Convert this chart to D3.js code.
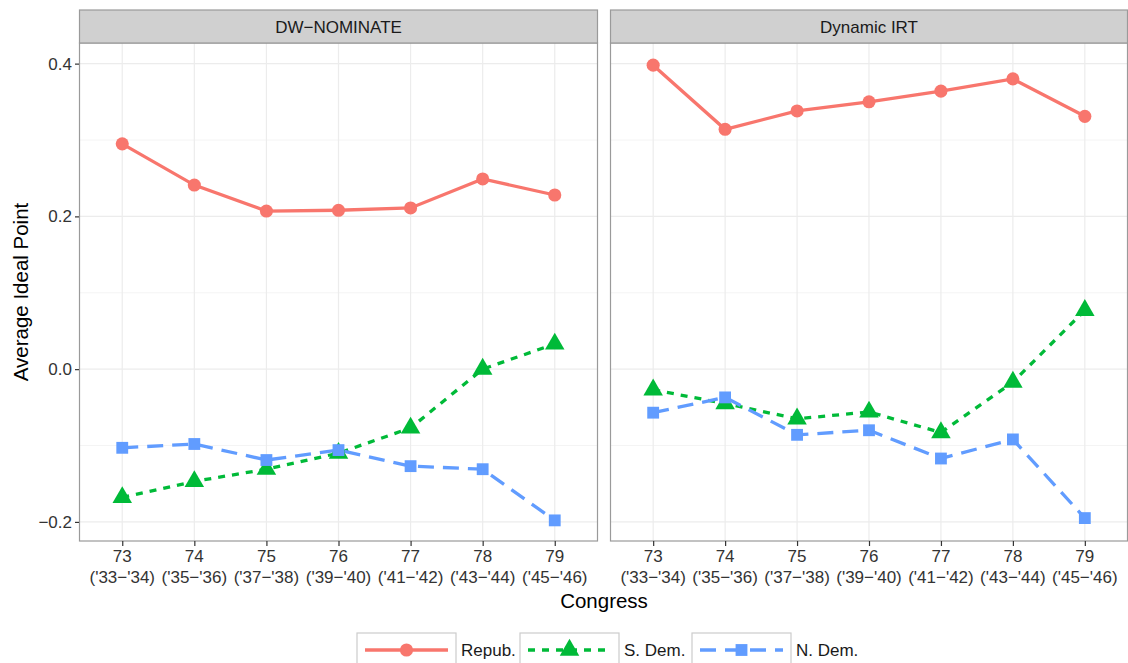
<!DOCTYPE html>
<html>
<head>
<meta charset="utf-8">
<script src="https://cdn.jsdelivr.net/npm/d3@7"></script>
<style>
  html, body { margin: 0; padding: 0; background: #fff; }
  svg { display: block; font-family: "Liberation Sans", Arial, sans-serif; }
</style>
</head>
<body>
<svg id="chart" width="1128" height="663"></svg>
<script>
// Congress numbers and their year spans
const congresses = ["73", "74", "75", "76", "77", "78", "79"];
const yearLabels = ["('33\u2212'34)", "('35\u2212'36)", "('37\u2212'38)", "('39\u2212'40)",
  "('41\u2212'42)", "('43\u2212'44)", "('45\u2212'46)"];

const panelNames = ["DW\u2212NOMINATE", "Dynamic IRT"];
const seriesNames = ["Repub.", "S. Dem.", "N. Dem."];

// DW-NOMINATE averages
const dwRepub = [0.295, 0.241, 0.207, 0.208, 0.211, 0.249, 0.228];
const dwSDem = [-0.168, -0.147, -0.131, -0.110, -0.077, 0.000, 0.033];
const dwNDem = [-0.103, -0.098, -0.119, -0.106, -0.127, -0.131, -0.198];

// Dynamic IRT averages
const irtRepub = [0.398, 0.314, 0.338, 0.350, 0.364, 0.380, 0.331];
const irtSDem = [-0.027, -0.045, -0.065, -0.056, -0.083, -0.017, 0.077];
const irtNDem = [-0.057, -0.037, -0.086, -0.080, -0.117, -0.092, -0.195];

const yTicks = [-0.2, 0.0, 0.2, 0.4];
const yMinor = [-0.1, 0.1, 0.3];

const panelValues = [
  [dwRepub, dwSDem, dwNDem],
  [irtRepub, irtSDem, irtNDem],
];

const CONFIG = {
  panelTop: 43,
  panelBottom: 541,
  stripTop: 10,
  panels: [[79, 598], [610, 1128]],
  colors: ["#F8766D", "#00BA38", "#619CFF"],
  dashes: [null, "7,7", "16,9"],
  symbols: [d3.symbolCircle, d3.symbolTriangle, d3.symbolSquare],
  symbolSizes: [135, 165, 140],
  lineWidth: 3.3,
  border: "#9a9a9a",
  grid: "#ececec",
  tickColor: "#333",
  fontSize: 17,
};

const svg = d3.select("#chart");

const y = d3.scaleLinear()
  .domain([-0.225, 0.427])
  .range([CONFIG.panelBottom, CONFIG.panelTop]);

panelNames.forEach((name, p) => {
  const [x0, x1] = CONFIG.panels[p];
  const x = d3.scalePoint()
    .domain(congresses)
    .range([x0, x1])
    .padding(0.6);

  const g = svg.append("g");

  // grid lines
  g.selectAll(".minor")
    .data(yMinor)
    .enter()
    .append("line")
    .attr("x1", x0).attr("x2", x1)
    .attr("y1", d => y(d)).attr("y2", d => y(d))
    .attr("stroke", "#f4f4f4")
    .attr("stroke-width", 1);

  g.selectAll(".major")
    .data(yTicks)
    .enter()
    .append("line")
    .attr("x1", x0).attr("x2", x1)
    .attr("y1", d => y(d)).attr("y2", d => y(d))
    .attr("stroke", CONFIG.grid)
    .attr("stroke-width", 1.2);

  g.selectAll(".vgrid")
    .data(congresses)
    .enter()
    .append("line")
    .attr("x1", d => x(d)).attr("x2", d => x(d))
    .attr("y1", CONFIG.panelTop).attr("y2", CONFIG.panelBottom)
    .attr("stroke", CONFIG.grid)
    .attr("stroke-width", 1.2);

  // series lines
  const line = d3.line()
    .x((d, i) => x(congresses[i]))
    .y(d => y(d));

  panelValues[p].forEach((vals, s) => {
    g.append("path")
      .datum(vals)
      .attr("d", line)
      .attr("fill", "none")
      .attr("stroke", CONFIG.colors[s])
      .attr("stroke-width", CONFIG.lineWidth)
      .attr("stroke-dasharray", CONFIG.dashes[s]);
  });

  panelValues[p].forEach((vals, s) => {
    g.selectAll(".pt" + s)
      .data(vals)
      .enter()
      .append("path")
      .attr("d", d3.symbol().type(CONFIG.symbols[s]).size(CONFIG.symbolSizes[s]))
      .attr("transform", (d, i) => `translate(${x(congresses[i])},${y(d)})`)
      .attr("fill", CONFIG.colors[s]);
  });

  // panel border
  g.append("rect")
    .attr("x", x0 + 0.5).attr("y", CONFIG.panelTop)
    .attr("width", x1 - x0 - 1).attr("height", CONFIG.panelBottom - CONFIG.panelTop)
    .attr("fill", "none")
    .attr("stroke", CONFIG.border)
    .attr("stroke-width", 1.2);

  // strip
  g.append("rect")
    .attr("x", x0 + 0.5).attr("y", CONFIG.stripTop)
    .attr("width", x1 - x0 - 1).attr("height", CONFIG.panelTop - CONFIG.stripTop)
    .attr("fill", "#d0d0d0")
    .attr("stroke", CONFIG.border)
    .attr("stroke-width", 1.2);

  g.append("text")
    .attr("x", (x0 + x1) / 2)
    .attr("y", (CONFIG.stripTop + CONFIG.panelTop) / 2 + 6)
    .attr("text-anchor", "middle")
    .attr("font-size", CONFIG.fontSize)
    .attr("fill", "#1a1a1a")
    .text(name);

  // x axis
  const xAxis = g.append("g")
    .attr("transform", `translate(0,${CONFIG.panelBottom})`)
    .call(d3.axisBottom(x).tickSize(5).tickFormat(""));
  xAxis.select(".domain").remove();
  xAxis.selectAll(".tick line").attr("stroke", CONFIG.tickColor).attr("stroke-width", 1.2);

  const lbl = g.selectAll(".xlab")
    .data(congresses)
    .enter()
    .append("text")
    .attr("text-anchor", "middle")
    .attr("font-size", CONFIG.fontSize)
    .attr("fill", CONFIG.tickColor);
  lbl.append("tspan")
    .attr("x", d => x(d)).attr("y", 562)
    .text(d => d);
  lbl.append("tspan")
    .attr("x", d => x(d)).attr("y", 583)
    .text((d, i) => yearLabels[i]);
});

// y axis (left panel only)
const yAxis = svg.append("g")
  .attr("transform", `translate(${CONFIG.panels[0][0]},0)`)
  .call(d3.axisLeft(y).tickValues(yTicks).tickSize(4).tickPadding(3)
    .tickFormat(d => d3.format(".1f")(d).replace("-", "\u2212")));
yAxis.select(".domain").remove();
yAxis.selectAll(".tick line").attr("stroke", CONFIG.tickColor).attr("stroke-width", 1.2);
yAxis.selectAll(".tick text")
  .attr("font-size", CONFIG.fontSize)
  .attr("font-family", "Liberation Sans, Arial, sans-serif")
  .attr("fill", CONFIG.tickColor);

// axis titles
svg.append("text")
  .attr("x", 604).attr("y", 608)
  .attr("text-anchor", "middle")
  .attr("font-size", 20.5)
  .text("Congress");

svg.append("text")
  .attr("transform", "translate(28,292) rotate(-90)")
  .attr("text-anchor", "middle")
  .attr("font-size", 20.5)
  .text("Average Ideal Point");

// legend
const legendX = [357, 520, 692];
const legendKeyW = 99;
const legendTop = 633;
const legendMid = 650;

seriesNames.forEach((name, s) => {
  const lg = svg.append("g");
  const lx = legendX[s];
  lg.append("rect")
    .attr("x", lx).attr("y", legendTop)
    .attr("width", legendKeyW).attr("height", 36)
    .attr("fill", "#fff")
    .attr("stroke", "#cccccc")
    .attr("stroke-width", 1.2);
  lg.append("line")
    .attr("x1", lx + 8).attr("x2", lx + legendKeyW - 8)
    .attr("y1", legendMid).attr("y2", legendMid)
    .attr("stroke", CONFIG.colors[s])
    .attr("stroke-width", CONFIG.lineWidth)
    .attr("stroke-dasharray", CONFIG.dashes[s]);
  lg.append("path")
    .attr("d", d3.symbol().type(CONFIG.symbols[s]).size(CONFIG.symbolSizes[s]))
    .attr("transform", `translate(${lx + legendKeyW / 2},${legendMid})`)
    .attr("fill", CONFIG.colors[s]);
  lg.append("text")
    .attr("x", lx + legendKeyW + 5)
    .attr("y", legendMid + 6)
    .attr("font-size", CONFIG.fontSize)
    .attr("fill", "#1a1a1a")
    .text(name);
});
</script>
</body>
</html>
